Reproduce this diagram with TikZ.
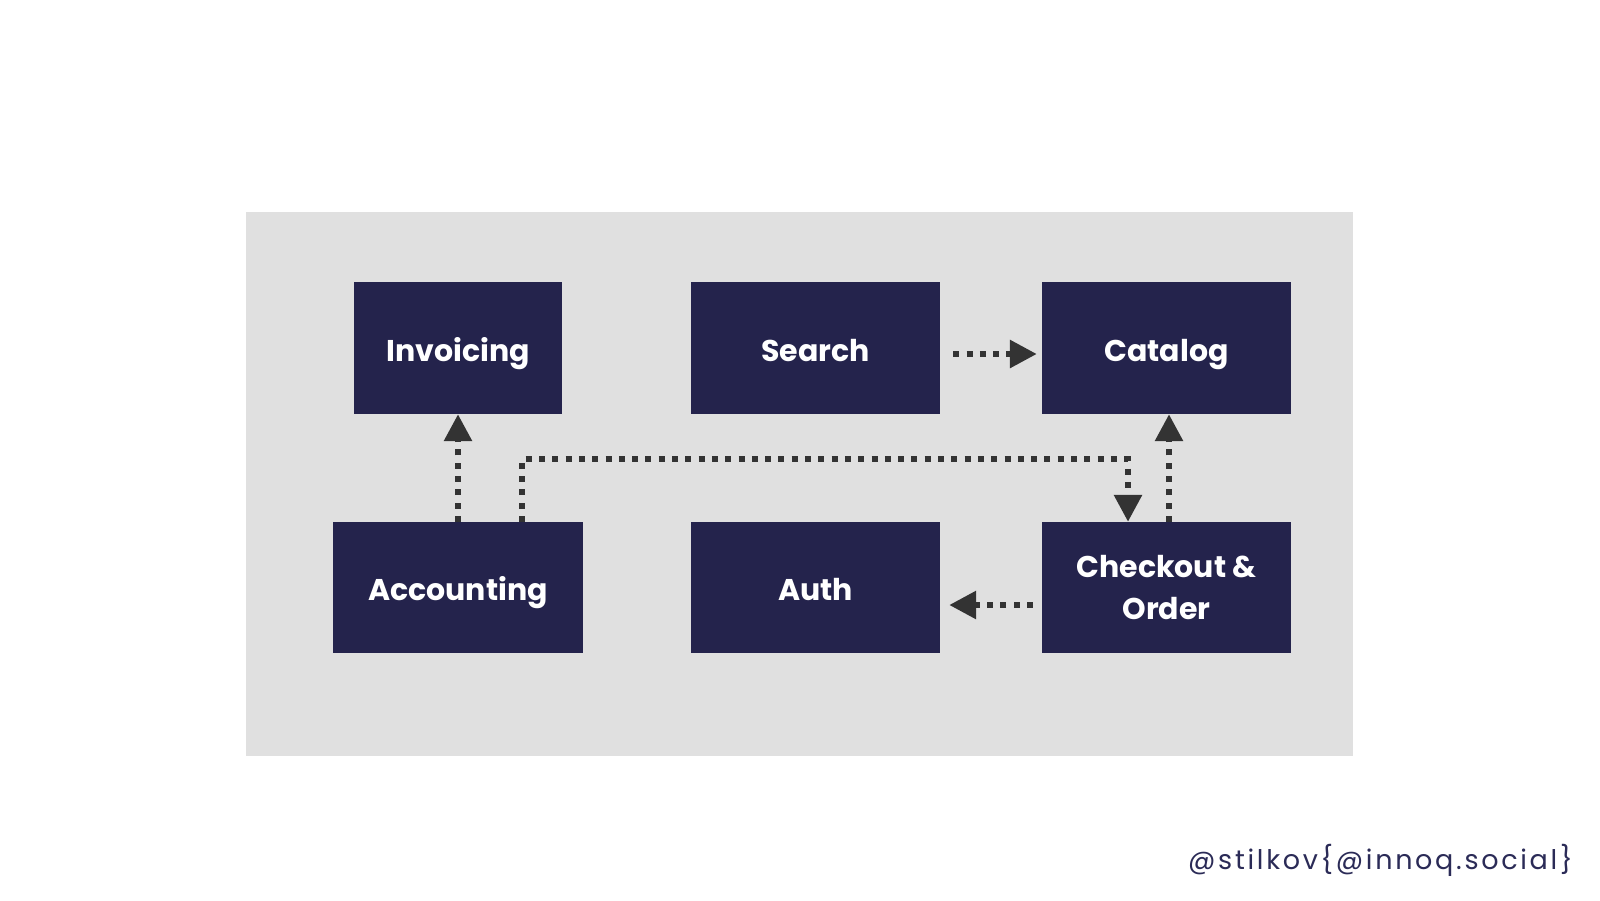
\documentclass[tikz,border=0pt]{standalone}
\usepackage{fontspec}
\setmainfont{Poppins}
\newfontfamily\footfont[LetterSpace=10]{Poppins}
\usetikzlibrary{arrows.meta}
\definecolor{navy}{HTML}{24234C}
\definecolor{bggray}{HTML}{E0E0E0}
\definecolor{arrowgray}{HTML}{333333}
\definecolor{footer}{HTML}{2B2B57}
\tikzset{
  svc/.style={fill=navy, draw=none, inner sep=0pt, text=white, align=center,
    font=\fontsize{30}{42}\selectfont\bfseries},
  oneline/.style={text height=26pt, text depth=0pt},
  dep/.style={draw=arrowgray, line width=6pt, dash pattern=on 6pt off 7.3pt,
    -{Triangle[length=27pt,width=27pt]}}
}
\begin{document}
\begin{tikzpicture}[x=1pt,y=-1pt]
\useasboundingbox (0,0) rectangle (1600,900);
\fill[white] (0,0) rectangle (1600,900);
\fill[bggray] (246,212) rectangle (1353,756);
\node[svc, oneline, minimum width=208pt, minimum height=132pt] (inv) at (458,348) {Invoicing};
\node[svc, oneline, minimum width=249pt, minimum height=132pt] (search) at (815.5,348) {Search};
\node[svc, oneline, minimum width=249pt, minimum height=132pt] (cat) at (1166.5,348) {Catalog};
\node[svc, oneline, minimum width=250pt, minimum height=131pt] (acc) at (458,587.5) {Accounting};
\node[svc, oneline, minimum width=249pt, minimum height=131pt] (auth) at (815.5,587.5) {Auth};
\node[svc, minimum width=249pt, minimum height=131pt] (co) at (1166.5,587.5) {Checkout \&\\Order};
\coordinate (bend) at (522,459);
\draw[dep] ([xshift=13pt,yshift=-6pt]search.east) -- ([xshift=-5pt,yshift=-6pt]cat.west);
\draw[dep] (acc.north) -- (inv.south);
\draw[dep] ([xshift=64pt]acc.north) -- (bend) -| ([xshift=-38.5pt]co.north);
\draw[dep] ([xshift=2.5pt]co.north) -- ([xshift=2.5pt]cat.south);
\draw[dep] ([xshift=-9pt,yshift=-17.5pt]co.west) -- ([xshift=9pt,yshift=-17.5pt]auth.east);
\node[anchor=base west, inner sep=0pt, text=footer, font=\fontsize{27}{30}\footfont] (foot) at (1188,869) {@stilkov\{@innoq.social\}};
\end{tikzpicture}
\end{document}
